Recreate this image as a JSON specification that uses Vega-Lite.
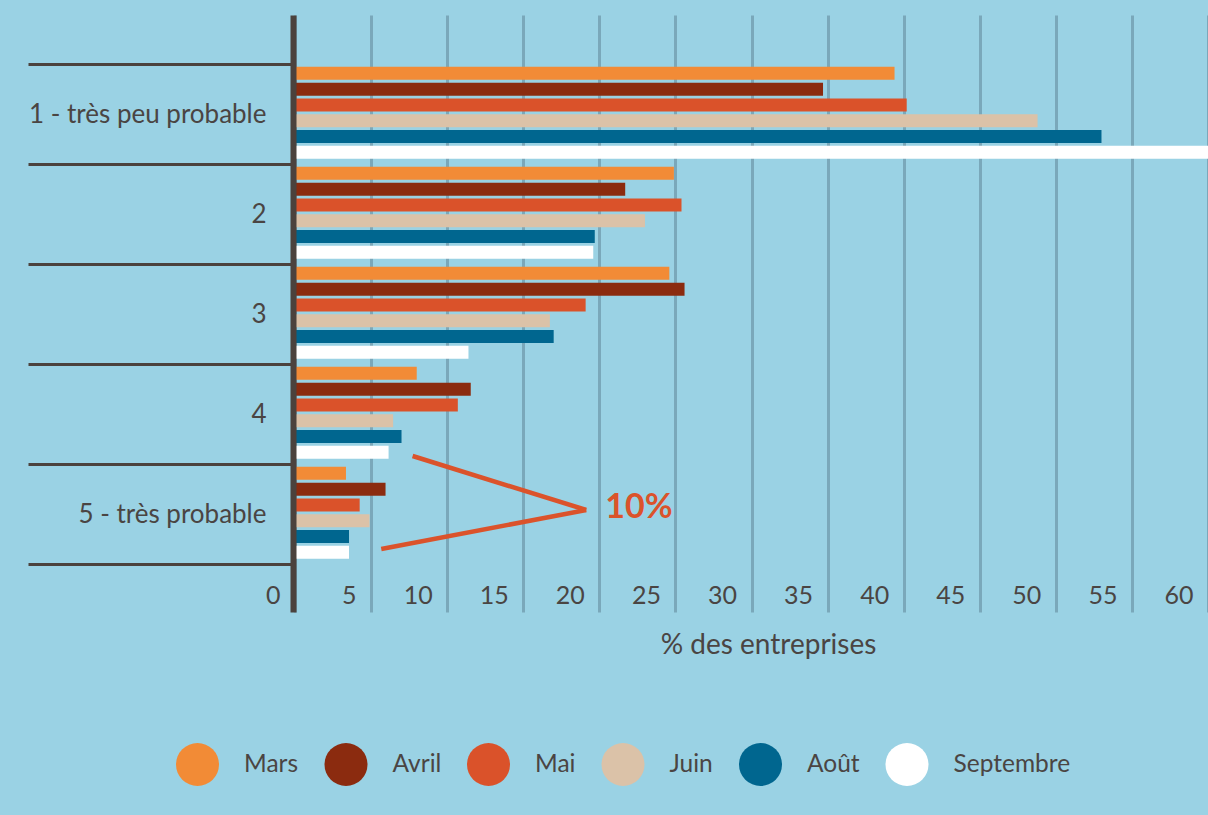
{
  "$schema": "https://vega.github.io/schema/vega-lite/v6.json",
  "width": 913,
  "height": 597,
  "autosize": {"type": "none"},
  "padding": {"left": 295, "top": 15, "right": 0, "bottom": 203},
  "background": "#9ad2e4",
  "config": {
    "view": {"stroke": null},
    "font": "Lato",
    "text": {"font": "Lato"}
  },
  "datasets": {
    "bars": [
      {"cat": "1 - très peu probable", "mois": "Mars", "val": 39.4},
      {"cat": "1 - très peu probable", "mois": "Avril", "val": 34.7},
      {"cat": "1 - très peu probable", "mois": "Mai", "val": 40.2},
      {"cat": "1 - très peu probable", "mois": "Juin", "val": 48.8},
      {"cat": "1 - très peu probable", "mois": "Août", "val": 53.0},
      {"cat": "1 - très peu probable", "mois": "Septembre", "val": 62.0},
      {"cat": "2", "mois": "Mars", "val": 24.9},
      {"cat": "2", "mois": "Avril", "val": 21.7},
      {"cat": "2", "mois": "Mai", "val": 25.4},
      {"cat": "2", "mois": "Juin", "val": 23.0},
      {"cat": "2", "mois": "Août", "val": 19.7},
      {"cat": "2", "mois": "Septembre", "val": 19.6},
      {"cat": "3", "mois": "Mars", "val": 24.6},
      {"cat": "3", "mois": "Avril", "val": 25.6},
      {"cat": "3", "mois": "Mai", "val": 19.1},
      {"cat": "3", "mois": "Juin", "val": 16.75},
      {"cat": "3", "mois": "Août", "val": 17.0},
      {"cat": "3", "mois": "Septembre", "val": 11.4},
      {"cat": "4", "mois": "Mars", "val": 8.0},
      {"cat": "4", "mois": "Avril", "val": 11.55},
      {"cat": "4", "mois": "Mai", "val": 10.7},
      {"cat": "4", "mois": "Juin", "val": 6.45},
      {"cat": "4", "mois": "Août", "val": 7.0},
      {"cat": "4", "mois": "Septembre", "val": 6.15},
      {"cat": "5 - très probable", "mois": "Mars", "val": 3.35},
      {"cat": "5 - très probable", "mois": "Avril", "val": 5.95},
      {"cat": "5 - très probable", "mois": "Mai", "val": 4.25},
      {"cat": "5 - très probable", "mois": "Juin", "val": 4.9},
      {"cat": "5 - très probable", "mois": "Août", "val": 3.55},
      {"cat": "5 - très probable", "mois": "Septembre", "val": 3.55}
    ],
    "lines": [
      {"x": 7.73, "y": 3.925, "x2": 19.14, "y2": 4.465},
      {"x": 19.14, "y": 4.465, "x2": 5.67, "y2": 4.855}
    ],
    "label": [
      {"x": 22.6, "y": 4.44, "txt": "10%"}
    ]
  },
  "layer": [
    {
      "data": {"name": "bars"},
      "mark": {"type": "bar", "clip": true},
      "encoding": {
        "x": {
          "field": "val",
          "type": "quantitative",
          "scale": {"domain": [0, 60], "nice": false, "zero": true},
          "axis": {
            "values": [0, 5, 10, 15, 20, 25, 30, 35, 40, 45, 50, 55, 60],
            "orient": "bottom",
            "offset": -17,
            "domain": false,
            "ticks": false,
            "grid": true,
            "gridColor": "#7aa8ba",
            "gridWidth": 3,
            "gridOpacity": 1,
            "labelAlign": "right",
            "labelBaseline": "middle",
            "labelOffset": -15,
            "labelPadding": 0,
            "labelFont": "Lato",
            "labelFontSize": 25,
            "labelColor": "#4a4543",
            "labelFlush": false,
            "labelOverlap": false,
            "labelBound": false,
            "title": "% des entreprises",
            "titleFont": "Lato",
            "titleFontSize": 28,
            "titleFontWeight": "normal",
            "titleColor": "#4a4543",
            "titleX": 473,
            "titleY": 50,
            "titleAlign": "center",
            "titleBaseline": "middle",
            "titleAnchor": null
          }
        },
        "y": {
          "field": "cat",
          "type": "nominal",
          "sort": null,
          "scale": {"paddingInner": 0, "paddingOuter": 0.485, "align": 0.51},
          "axis": {
            "title": null,
            "offset": 2,
            "zindex": 1,
            "domainWidth": 6,
            "domainColor": "#4b423d",
            "tickBand": "extent",
            "tickSize": 265,
            "tickWidth": 3,
            "tickColor": "#4b423d",
            "labelPadding": -238,
            "labelFont": "Lato",
            "labelFontSize": 26,
            "labelColor": "#4a4543",
            "labelLimit": 0,
            "labelBaseline": "middle"
          }
        },
        "yOffset": {
          "field": "mois",
          "type": "nominal",
          "sort": ["Mars", "Avril", "Mai", "Juin", "Août", "Septembre"],
          "scale": {"paddingInner": 0.177, "paddingOuter": 0.253, "align": 0.3}
        },
        "color": {
          "field": "mois",
          "type": "nominal",
          "sort": ["Mars", "Avril", "Mai", "Juin", "Août", "Septembre"],
          "scale": {
            "domain": ["Mars", "Avril", "Mai", "Juin", "Août", "Septembre"],
            "range": ["#f28b36", "#8b2b0f", "#da522a", "#dbc2a8", "#00668f", "#ffffff"]
          },
          "legend": {
            "title": null,
            "orient": "none",
            "direction": "horizontal",
            "columns": 6,
            "legendX": -119,
            "legendY": 728,
            "symbolType": "circle",
            "symbolSize": 1849,
            "symbolStrokeWidth": 0,
            "symbolOpacity": 1,
            "labelOffset": 25,
            "columnPadding": 25.5,
            "padding": 0,
            "labelFont": "Lato",
            "labelFontSize": 24.5,
            "labelColor": "#4a4543",
            "labelLimit": 0
          }
        }
      }
    },
    {
      "data": {"name": "lines"},
      "mark": {"type": "rule", "color": "#db532b", "strokeWidth": 4.5},
      "encoding": {
        "x": {"field": "x", "type": "quantitative"},
        "x2": {"field": "x2"},
        "y": {"field": "y", "type": "quantitative", "scale": {"domain": [-0.485, 5.485], "reverse": true, "nice": false, "zero": false}, "axis": null},
        "y2": {"field": "y2"}
      }
    },
    {
      "data": {"name": "label"},
      "mark": {"type": "text", "color": "#db532b", "fontSize": 34, "fontWeight": "bold", "font": "Lato", "align": "center", "baseline": "middle"},
      "encoding": {
        "x": {"field": "x", "type": "quantitative"},
        "y": {"field": "y", "type": "quantitative", "scale": {"domain": [-0.485, 5.485], "reverse": true, "nice": false, "zero": false}, "axis": null},
        "text": {"field": "txt"}
      }
    }
  ],
  "resolve": {"scale": {"y": "independent", "color": "independent"}}
}
